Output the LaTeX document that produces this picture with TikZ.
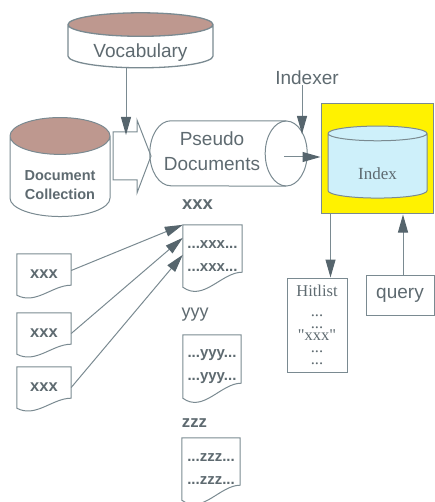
\documentclass[tikz,border=0pt]{standalone}
\usepackage{fontspec}
\setmainfont{Liberation Serif}
\setsansfont{Liberation Sans}
\usetikzlibrary{shapes.geometric,arrows.meta,positioning,calc}

\definecolor{linegray}{RGB}{122,138,145}
\definecolor{headgray}{RGB}{86,101,109}
\definecolor{txtgray}{RGB}{94,106,112}
\definecolor{rose}{RGB}{190,152,143}
\definecolor{icecyan}{RGB}{206,240,250}

% move a label down inside its store, keeping the box size
\newcommand{\sinklabel}[2]{\raisebox{-#1}[\height][\depth]{#2}}

\begin{document}
\begin{tikzpicture}[x=1pt,y=-1pt,
		font=\sffamily\fontsize{19}{22}\selectfont, text=txtgray,
		outline/.style={draw=linegray, line width=1pt},
		db/.style={cylinder, shape border rotate=90, outline, cylinder uses custom fill, cylinder body fill=white, cylinder end fill=rose, inner sep=0pt},
		doc/.style={rectangle, inner sep=0pt, align=center, font=\sffamily\bfseries\fontsize{15}{23.5}\selectfont},
		box/.style={rectangle, outline, inner sep=0pt},
		tag/.style={inner sep=0pt},
		arrow/.style={outline, -{Triangle[width=10pt,length=18pt,color=headgray]}}
		]
		\useasboundingbox (0,0) rectangle (435,502);
		
		% Stores
		\node[db, line width=1.3pt, minimum width=145pt, minimum height=55pt, aspect=0.25] (vocab) at (140.5,46.5) {\sinklabel{6.5pt}{Vocabulary}};
		\node[db, minimum width=100pt, minimum height=99pt, aspect=0.52, font=\sffamily\bfseries\fontsize{14.5}{19}\selectfont] (coll) at (60,176.5)
			{\sinklabel{10pt}{\begin{tabular}{@{}c@{}}Document\\Collection\end{tabular}}};
		\draw[outline] (113,132) -- (137,132) -- (137,120) -- (151,156) -- (137,193) -- (137,180) -- (113,180) -- cycle;
		
		% lying store: body from the left cap to the centre of the front ellipse
		\node[tag, minimum width=136pt, minimum height=65pt] (pseudo) at (218,153.5)
			{\begin{tabular}{@{}c@{\hspace{12pt}}}Pseudo\\[3pt]Documents\end{tabular}};
		\draw[outline] (pseudo.north east) -- ([xshift=21pt]pseudo.north west)
			arc[start angle=270, end angle=90, x radius=21, y radius=32.5] -- (pseudo.south east);
		\draw[outline] (pseudo.east) ellipse [x radius=21, y radius=32.5];
		
		\node[box, fill=yellow, minimum width=112pt, minimum height=110pt] (ibox) at (377,159) {};
		\node[db, cylinder body fill=icecyan, cylinder end fill=icecyan, minimum width=99pt, minimum height=72pt, aspect=0.38, font=\rmfamily\fontsize{17}{20}\selectfont] (index) at (377.5,166) {\sinklabel{8pt}{Index}};
		\node[tag] (indexer) at (307,78) {Indexer};
		
		% Results and query
		\node[box, minimum width=60pt, minimum height=94pt, align=center, font=\rmfamily\fontsize{16.5}{12}\selectfont] (hit) at (317,325) {Hitlist\\[7.5pt]...\\...\\\textquotedbl xxx\textquotedbl\\...\\...};
		\node[box, minimum width=68pt, minimum height=40pt] (query) at (400,295) {query};
		
		% Documents
		\node[doc, minimum width=54pt, minimum height=41pt, font=\sffamily\bfseries\fontsize{16.5}{20}\selectfont] (d1) at (44,274.5) {xxx};
		\node[doc, minimum width=54pt, minimum height=41pt, font=\sffamily\bfseries\fontsize{16.5}{20}\selectfont] (d2) at (44,333.5) {xxx};
		\node[doc, minimum width=54pt, minimum height=41pt, font=\sffamily\bfseries\fontsize{16.5}{20}\selectfont] (d3) at (44,387.5) {xxx};
		\node[tag, font=\sffamily\bfseries\fontsize{18.5}{22}\selectfont] (lx) at (197.5,205) {xxx};
		\node[doc, minimum width=59pt, minimum height=62pt] (px) at (212.5,256) {...xxx...\\...xxx...};
		\node[tag, font=\sffamily\fontsize{18}{22}\selectfont] (ly) at (195,315) {yyy};
		\node[doc, minimum width=58pt, minimum height=63pt] (py) at (212,366.5) {...yyy...\\...yyy...};
		\node[tag, font=\sffamily\bfseries\fontsize{16.7}{22}\selectfont] (lz) at (194.5,423) {zzz};
		\node[doc, minimum width=58pt, minimum height=62pt] (pz) at (211,469) {...zzz...\\...zzz...};
		
		\foreach \n/\d in {d1/10,d2/10,d3/10,px/15,py/15,pz/15}
			\draw[outline] (\n.north west) -- (\n.north east) -- ($(\n.south east)+(0,-\d)$)
				.. controls ($(\n.south east)!0.35!(\n.south west)+(0,-\d)$) and ($(\n.south west)!0.35!(\n.south east)+(0,\d)$) .. (\n.south west) -- cycle;
		
		% Arrows
		\coordinate (vin) at (126,135);
		\coordinate (iin) at (302,134);
		\coordinate (pout) at (284,157);
		\coordinate (hout) at ([xshift=10pt]ibox.south west);
		\draw[arrow] (vin |- vocab.south) -- (vin);
		\draw[arrow] (indexer.south -| iin) -- (iin);
		\draw[arrow] (pout) -- (pout -| ibox.west);
		\draw[arrow] (hout) -- (hout |- hit.north);
		\draw[arrow] ([xshift=3pt]query.north) -- ([xshift=3pt]query.north |- ibox.south);
		\draw[arrow] ([yshift=4pt]d1.east) -- (px.north west);
		\draw[arrow] (d2.east) -- ([yshift=-13pt]px.north west);
		\draw[arrow] (d3.east) -- ([yshift=-30pt]px.north west);
		
	\end{tikzpicture}
\end{document}
